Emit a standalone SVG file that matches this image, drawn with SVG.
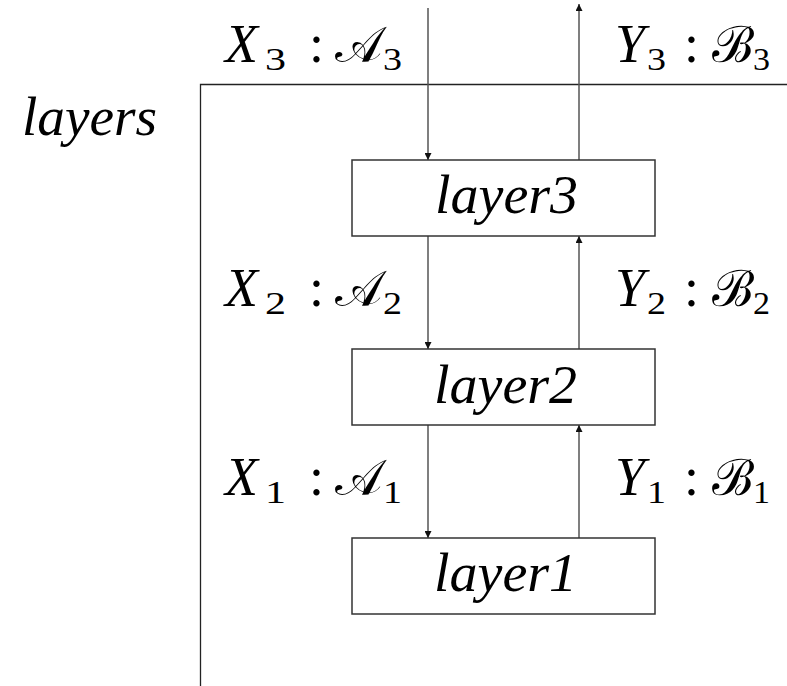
<svg xmlns="http://www.w3.org/2000/svg" width="787" height="686" viewBox="0 0 787 686">
  <style>
    .frame { fill: none; stroke: #222; stroke-width: 1.3; }
    .box { fill: #fff; stroke: #333; stroke-width: 1.5; }
    .wire { fill: none; stroke: #555; stroke-width: 1.5; }
  </style>
  <defs>
    <marker id="head" viewBox="0 0 10 10" refX="10" refY="5" markerWidth="7" markerHeight="7" markerUnits="userSpaceOnUse" orient="auto">
      <path d="M0,0 L10,5 L0,10 z" fill="#111"/>
    </marker>
  </defs>

  <!-- outer frame; large glyphs are set at 40px and scaled up -->
  <g id="frame">
    <path class="frame" d="M787,84.5 H200.5 V686"/>
    <text transform="translate(22,135) scale(1.35)" font-family="Liberation Serif" font-style="italic" font-size="40" textLength="100" lengthAdjust="spacingAndGlyphs">layers</text>
  </g>

  <!-- connectors -->
  <g id="connectors">
    <line class="wire" x1="428" y1="8" x2="428" y2="160" marker-end="url(#head)"/>
    <line class="wire" x1="428" y1="236" x2="428" y2="349" marker-end="url(#head)"/>
    <line class="wire" x1="428" y1="425" x2="428" y2="538" marker-end="url(#head)"/>
    <line class="wire" x1="579" y1="538" x2="579" y2="425" marker-end="url(#head)"/>
    <line class="wire" x1="579" y1="349" x2="579" y2="236" marker-end="url(#head)"/>
    <line class="wire" x1="579" y1="160" x2="579" y2="4" marker-end="url(#head)"/>
  </g>

  <!-- layer nodes -->
  <g id="layer3">
    <rect class="box" x="352" y="160" width="303" height="76"/>
    <text transform="translate(435,213) scale(1.35)" font-family="Liberation Serif" font-style="italic" font-size="40" textLength="106" lengthAdjust="spacingAndGlyphs">layer3</text>
  </g>
  <g id="layer2">
    <rect class="box" x="352" y="349" width="303" height="76"/>
    <text transform="translate(434,403) scale(1.35)" font-family="Liberation Serif" font-style="italic" font-size="40" textLength="106" lengthAdjust="spacingAndGlyphs">layer2</text>
  </g>
  <g id="layer1">
    <rect class="box" x="352" y="538" width="303" height="76"/>
    <text transform="translate(434,591) scale(1.35)" font-family="Liberation Serif" font-style="italic" font-size="40" textLength="106" lengthAdjust="spacingAndGlyphs">layer1</text>
  </g>

  <!-- type labels on the down/up streams -->
  <g id="label-x3">
    <text transform="translate(225,62) scale(1.35)" font-family="Liberation Serif" font-style="italic" font-size="40">X</text>
    <text x="265" y="70" font-family="Liberation Serif" font-size="31" textLength="21" lengthAdjust="spacingAndGlyphs">3</text>
    <text transform="translate(309,62) scale(1.35)" font-family="Liberation Serif" font-size="40">:</text>
    <text transform="translate(335,62) scale(1.25)" font-family="Noto Serif" font-size="40">𝒜</text>
    <text x="383" y="70" font-family="Liberation Serif" font-size="31" textLength="19" lengthAdjust="spacingAndGlyphs">3</text>
  </g>
  <g id="label-y3">
    <text transform="translate(615,62) scale(1.35)" font-family="Liberation Serif" font-style="italic" font-size="40">Y</text>
    <text x="647" y="70" font-family="Liberation Serif" font-size="31" textLength="19" lengthAdjust="spacingAndGlyphs">3</text>
    <text transform="translate(684,62) scale(1.35)" font-family="Liberation Serif" font-size="40">:</text>
    <text transform="translate(712,62) scale(1.25)" font-family="Noto Serif" font-size="40">ℬ</text>
    <text x="753" y="70" font-family="Liberation Serif" font-size="31" textLength="17" lengthAdjust="spacingAndGlyphs">3</text>
  </g>
  <g id="label-x2">
    <text transform="translate(225,306) scale(1.35)" font-family="Liberation Serif" font-style="italic" font-size="40">X</text>
    <text x="265" y="314" font-family="Liberation Serif" font-size="31" textLength="21" lengthAdjust="spacingAndGlyphs">2</text>
    <text transform="translate(309,306) scale(1.35)" font-family="Liberation Serif" font-size="40">:</text>
    <text transform="translate(335,306) scale(1.25)" font-family="Noto Serif" font-size="40">𝒜</text>
    <text x="383" y="314" font-family="Liberation Serif" font-size="31" textLength="19" lengthAdjust="spacingAndGlyphs">2</text>
  </g>
  <g id="label-y2">
    <text transform="translate(615,306) scale(1.35)" font-family="Liberation Serif" font-style="italic" font-size="40">Y</text>
    <text x="647" y="314" font-family="Liberation Serif" font-size="31" textLength="19" lengthAdjust="spacingAndGlyphs">2</text>
    <text transform="translate(684,306) scale(1.35)" font-family="Liberation Serif" font-size="40">:</text>
    <text transform="translate(712,306) scale(1.25)" font-family="Noto Serif" font-size="40">ℬ</text>
    <text x="753" y="314" font-family="Liberation Serif" font-size="31" textLength="17" lengthAdjust="spacingAndGlyphs">2</text>
  </g>
  <g id="label-x1">
    <text transform="translate(225,495) scale(1.35)" font-family="Liberation Serif" font-style="italic" font-size="40">X</text>
    <text x="265" y="503" font-family="Liberation Serif" font-size="31" textLength="21" lengthAdjust="spacingAndGlyphs">1</text>
    <text transform="translate(309,495) scale(1.35)" font-family="Liberation Serif" font-size="40">:</text>
    <text transform="translate(335,495) scale(1.25)" font-family="Noto Serif" font-size="40">𝒜</text>
    <text x="383" y="503" font-family="Liberation Serif" font-size="31" textLength="19" lengthAdjust="spacingAndGlyphs">1</text>
  </g>
  <g id="label-y1">
    <text transform="translate(615,495) scale(1.35)" font-family="Liberation Serif" font-style="italic" font-size="40">Y</text>
    <text x="647" y="503" font-family="Liberation Serif" font-size="31" textLength="19" lengthAdjust="spacingAndGlyphs">1</text>
    <text transform="translate(684,495) scale(1.35)" font-family="Liberation Serif" font-size="40">:</text>
    <text transform="translate(712,495) scale(1.25)" font-family="Noto Serif" font-size="40">ℬ</text>
    <text x="753" y="503" font-family="Liberation Serif" font-size="31" textLength="17" lengthAdjust="spacingAndGlyphs">1</text>
  </g>
</svg>
